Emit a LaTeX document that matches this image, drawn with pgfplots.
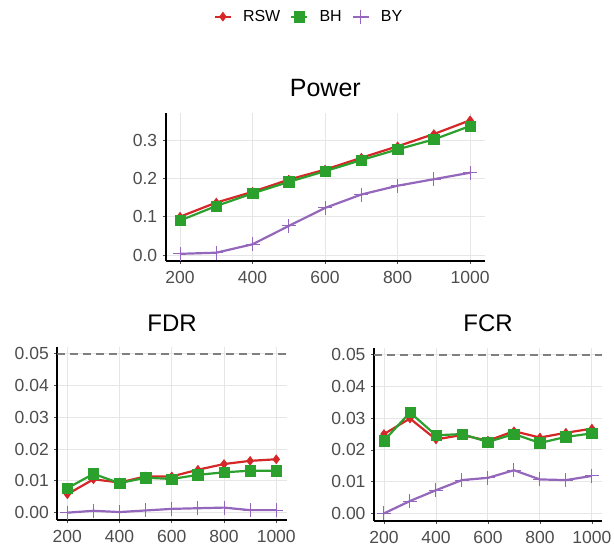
\documentclass[border=0pt]{standalone}
\usepackage{pgfplots}
\pgfplotsset{compat=1.18}
\usepackage{fontspec}
\setmainfont{Liberation Sans}
\definecolor{cRSW}{HTML}{D62728}
\definecolor{cBH}{HTML}{2CA02C}
\definecolor{cBY}{HTML}{9467BD}
\definecolor{tickgray}{HTML}{4D4D4D}
\definecolor{gridgray}{HTML}{E6E6E6}
\definecolor{dashgray}{HTML}{7F7F7F}

\pgfplotstableread{
x    rsw    bh     by
200  0.100  0.090  0.003
300  0.137  0.128  0.006
400  0.165  0.161  0.028
500  0.197  0.191  0.076
600  0.223  0.219  0.123
700  0.254  0.248  0.158
800  0.284  0.276  0.181
900  0.316  0.302  0.198
1000 0.352  0.337  0.215
}\powertab

\pgfplotstableread{
x    rsw     bh      by
200  0.0058  0.0077  0.0000
300  0.0105  0.0122  0.0006
400  0.0095  0.0093  0.0002
500  0.0114  0.0110  0.0007
600  0.0114  0.0106  0.0012
700  0.0135  0.0119  0.0014
800  0.0153  0.0127  0.0016
900  0.0163  0.0132  0.0008
1000 0.0168  0.0132  0.0008
}\fdrtab

\pgfplotstableread{
x    rsw     bh      by
200  0.0250  0.0229  0.0000
300  0.0299  0.0318  0.0039
400  0.0233  0.0246  0.0073
500  0.0247  0.0250  0.0105
600  0.0229  0.0225  0.0112
700  0.0259  0.0250  0.0136
800  0.0239  0.0222  0.0107
900  0.0254  0.0241  0.0105
1000 0.0267  0.0252  0.0118
}\fcrtab

\pgfplotsset{
  mystyle/.style={
    scale only axis,
    axis x line*=bottom, axis y line*=left,
    axis line style={black, line width=1.8pt},
    grid=major, major grid style={gridgray, line width=0.9pt},
    tick style={tickgray, line width=0.8pt}, major tick length=3pt, tick align=outside,
    ticklabel style={font=\fontsize{17.5}{20}\selectfont, text=tickgray},
    xticklabel style={yshift=-4pt},
    yticklabel style={xshift=-2pt},
    /pgf/number format/assume math mode=true,
    /pgf/number format/1000 sep={},
    scaled y ticks=false, scaled x ticks=false,
    xmin=161.6, xmax=1040,
    xtick={200,400,600,800,1000},
    title style={font=\fontsize{24}{28}\selectfont, anchor=center, yshift=0pt},
  },
  rsw/.style={cRSW, line width=2.2pt, mark=diamond*, mark size=4.5pt, mark options={solid, line width=0.5pt}},
  bh/.style={cBH, line width=2.2pt, mark=square*, mark size=5.2pt, mark options={solid, line width=0.5pt}},
  by/.style={cBY, line width=2.2pt, mark=+, mark size=7pt, mark options={solid, line width=1pt}},
  refline/.style={dashgray, line width=1.8pt, dash pattern=on 8pt off 5pt, forget plot},
}

\begin{document}
\begin{tikzpicture}
\path[use as bounding box] (0pt,0pt) rectangle (614pt,550pt);

% Power
\begin{axis}[mystyle,
  at={(165.7pt,289pt)}, anchor=south west,
  width=319.3pt, height=148pt,
  xmin=160.5, xmax=1041,
  ymin=-0.0157, ymax=0.371,
  ytick={0,0.1,0.2,0.3},
  yticklabel style={/pgf/number format/.cd, fixed, fixed zerofill, precision=1},
  title={Power}, title style={at={(0.5,1.128)}, font=\fontsize{25}{28}\selectfont},
  legend columns=3,
  legend style={at={(0.449,1.651)}, anchor=center, draw=none, fill=none,
    font=\fontsize{16}{18}\selectfont,
    /tikz/every odd column/.append style={column sep=9pt},
    /tikz/every even column/.append style={column sep=8pt}},
  legend image code/.code={\draw[mark repeat=2, mark phase=2] plot coordinates {(0pt,0pt) (8pt,0pt) (16pt,0pt)};},
]
\addplot[rsw] table[x=x, y=rsw] {\powertab};
\addlegendentry{RSW}
\addplot[bh] table[x=x, y=bh] {\powertab};
\addlegendentry{BH}
\addplot[by] table[x=x, y=by] {\powertab};
\addlegendentry{BY}
\end{axis}

% FDR
\begin{axis}[mystyle,
  at={(57.3pt,30pt)}, anchor=south west,
  width=229.4pt, height=173.3pt,
  ymin=-0.0023, ymax=0.0522,
  ytick={0,0.01,0.02,0.03,0.04,0.05},
  yticklabel style={/pgf/number format/.cd, fixed, fixed zerofill, precision=2},
  title={FDR}, title style={at={(0.5,1.100)}},
]
\addplot[refline] coordinates {(161.6,0.05) (1040,0.05)};
\addplot[rsw] table[x=x, y=rsw] {\fdrtab};
\addplot[bh] table[x=x, y=bh] {\fdrtab};
\addplot[by] table[x=x, y=by] {\fdrtab};
\end{axis}

% FCR
\begin{axis}[mystyle,
  at={(374pt,29.3pt)}, anchor=south west,
  width=228.3pt, height=173pt,
  ymin=-0.0023, ymax=0.0522,
  ytick={0,0.01,0.02,0.03,0.04,0.05},
  yticklabel style={/pgf/number format/.cd, fixed, fixed zerofill, precision=2},
  title={FCR}, title style={at={(0.5,1.106)}},
]
\addplot[refline] coordinates {(161.6,0.05) (1040,0.05)};
\addplot[rsw] table[x=x, y=rsw] {\fcrtab};
\addplot[bh] table[x=x, y=bh] {\fcrtab};
\addplot[by] table[x=x, y=by] {\fcrtab};
\end{axis}
\end{tikzpicture}
\end{document}
